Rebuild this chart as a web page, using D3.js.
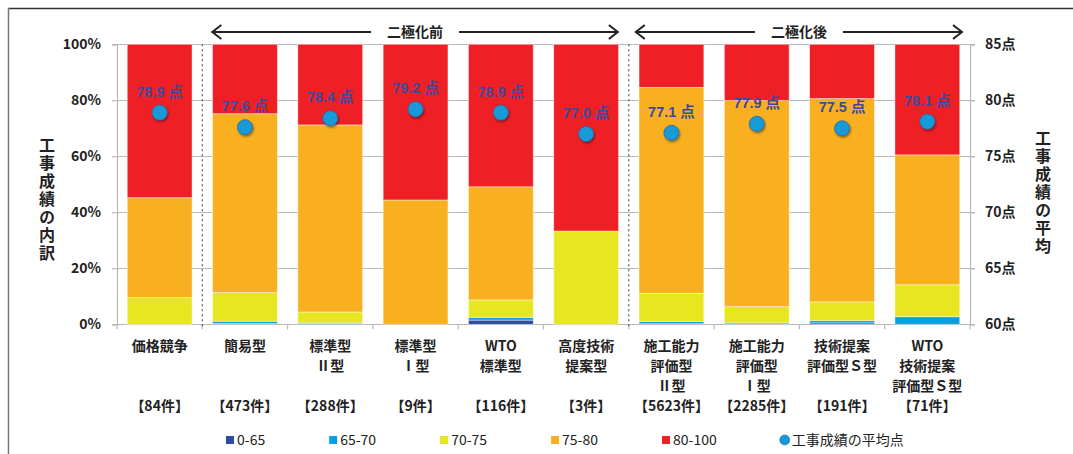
<!DOCTYPE html>
<html>
<head>
<meta charset="utf-8">
<script src="https://cdn.jsdelivr.net/npm/d3@7"></script>
<style>
  body { margin: 0; background: #fff; }
  svg text { font-family: "Liberation Sans", "Noto Sans CJK JP", sans-serif; }
  .jp { font-family: "Noto Sans CJK JP", sans-serif; }
  .vt { writing-mode: vertical-rl; text-orientation: upright; }
</style>
</head>
<body>
<svg width="1073" height="454"></svg>
<script>
// categories (lines of the label) and counts
var categories = ['価格競争', '簡易型', '標準型Ⅱ型', '標準型Ⅰ型', 'WTO標準型', '高度技術提案型',
                  '施工能力評価型Ⅱ型', '施工能力評価型Ⅰ型', '技術提案評価型Ｓ型', 'WTO技術提案評価型Ｓ型'];
var labelLines = [['価格競争'], ['簡易型'], ['標準型', 'Ⅱ型'], ['標準型', 'Ⅰ型'], ['WTO', '標準型'],
                  ['高度技術', '提案型'], ['施工能力', '評価型', 'Ⅱ型'], ['施工能力', '評価型', 'Ⅰ型'],
                  ['技術提案', '評価型Ｓ型'], ['WTO', '技術提案', '評価型Ｓ型']];
var counts = ['【84件】', '【473件】', '【288件】', '【9件】', '【116件】', '【3件】',
              '【5623件】', '【2285件】', '【191件】', '【71件】'];

// share of each score band (%)
var keys = ['0-65', '65-70', '70-75', '75-80', '80-100'];
var band0_65   = [0,    0.3, 0.2, 0,    1.5, 0,    0.2, 0.1, 0.5, 0];
var band65_70  = [0,    0.8, 0.3, 0,    1.0, 0,    0.8, 0.4, 0.8, 2.7];
var band70_75  = [9.5, 10.2, 3.9, 0,    6.2, 33.3, 10.1, 5.8, 6.7, 11.4];
var band75_80  = [35.7, 63.9, 66.8, 44.4, 40.4, 0, 73.5, 73.6, 72.6, 46.4];
var band80_100 = [54.8, 24.8, 28.8, 55.6, 50.9, 66.7, 15.4, 20.1, 19.4, 39.5];
// average score
var averages = [78.9, 77.6, 78.4, 79.2, 78.9, 77.0, 77.1, 77.9, 77.5, 78.1];

var pctTicks = [0, 20, 40, 60, 80, 100];
var ptTicks = [60, 65, 70, 75, 80, 85];
var colors = ['#2c4b9e', '#0aa0e0', '#e8e620', '#f8b020', '#ee2026'];

var rows = categories.map(function(c, i) {
  return { name: c, '0-65': band0_65[i], '65-70': band65_70[i], '70-75': band70_75[i],
           '75-80': band75_80[i], '80-100': band80_100[i], avg: averages[i] };
});

var svg = d3.select('svg');
var plotLeft = 117, plotRight = 970, plotTop = 44.3, plotBottom = 324.3;

// defs: shadow for dots
var defs = svg.append('defs');
var f = defs.append('filter').attr('id', 'sh').attr('x', '-50%').attr('y', '-50%').attr('width', '200%').attr('height', '200%');
f.append('feDropShadow').attr('dx', 1).attr('dy', 1.5).attr('stdDeviation', 1).attr('flood-color', '#000').attr('flood-opacity', 0.45);

// frame
svg.append('line').attr('x1', 8).attr('x2', 1073).attr('y1', 8.5).attr('y2', 8.5).attr('stroke', '#333').attr('stroke-width', 1.5);
svg.append('line').attr('x1', 8.5).attr('x2', 8.5).attr('y1', 8).attr('y2', 454).attr('stroke', '#777').attr('stroke-width', 1.5);

var x = d3.scaleBand().domain(categories).range([plotLeft, plotRight]).paddingInner(0.24).paddingOuter(0.12);
var y = d3.scaleLinear().domain([0, 100]).range([plotBottom, plotTop]);
var y2 = d3.scaleLinear().domain([60, 85]).range([plotBottom, plotTop]);

// gridlines
svg.append('g').selectAll('line').data(pctTicks).enter().append('line')
  .attr('x1', plotLeft).attr('x2', plotRight + 5)
  .attr('y1', function(d) { return Math.round(y(d)) + 0.5; })
  .attr('y2', function(d) { return Math.round(y(d)) + 0.5; })
  .attr('stroke', '#b8b8b8').attr('stroke-width', 1.2);

// stacked bars
var series = d3.stack().keys(keys)(rows);
svg.append('g').selectAll('g').data(series).enter().append('g')
    .attr('fill', function(d, i) { return colors[i]; })
  .selectAll('rect').data(function(d) { return d; }).enter().append('rect')
    .attr('x', function(d) { return x(d.data.name); })
    .attr('width', x.bandwidth())
    .attr('y', function(d) { return y(d[1]); })
    .attr('height', function(d) { return Math.max(0, y(d[0]) - y(d[1])); })
    .attr('stroke', '#fff').attr('stroke-opacity', 0.55).attr('stroke-width', 0.8);

// left axis
var gl = svg.append('g').attr('transform', 'translate(' + plotLeft + ',0)')
  .call(d3.axisLeft(y).tickValues(pctTicks).tickFormat(function(d) { return d + '%'; }).tickSize(5).tickPadding(11));
gl.select('.domain').attr('stroke', '#b8b8b8').attr('stroke-width', 1.2);
gl.selectAll('.tick line').attr('stroke', '#b8b8b8').attr('stroke-width', 1.2);
gl.selectAll('.tick text').attr('font-size', 14).attr('font-weight', 'bold').attr('fill', '#222').attr('class', 'jp');

// right axis
var gr = svg.append('g').attr('transform', 'translate(' + plotRight + ',0)')
  .call(d3.axisRight(y2).tickValues(ptTicks).tickFormat(function(d) { return d + '点'; }).tickSize(5).tickPadding(10));
gr.select('.domain').attr('stroke', '#b8b8b8').attr('stroke-width', 1.2);
gr.selectAll('.tick line').attr('stroke', '#b8b8b8').attr('stroke-width', 1.2);
gr.selectAll('.tick text').attr('font-size', 14).attr('font-weight', 'bold').attr('fill', '#222').attr('class', 'jp');

// bottom axis ticks at category boundaries
var bounds = d3.range(categories.length + 1).map(function(i) { return plotLeft + i * x.step(); });
svg.append('g').selectAll('line').data(bounds).enter().append('line')
  .attr('x1', function(d) { return d; }).attr('x2', function(d) { return d; })
  .attr('y1', plotBottom).attr('y2', plotBottom + 5)
  .attr('stroke', '#b8b8b8').attr('stroke-width', 1.2);

// dotted separators
[1, 6].forEach(function(i) {
  svg.append('line').attr('x1', bounds[i]).attr('x2', bounds[i]).attr('y1', plotTop).attr('y2', plotBottom + 2)
    .attr('stroke', '#555').attr('stroke-width', 1.2).attr('stroke-dasharray', '2,3');
});

// average points
var pts = svg.append('g');
pts.selectAll('circle').data(rows).enter().append('circle')
  .attr('cx', function(d) { return x(d.name) + x.bandwidth() / 2; })
  .attr('cy', function(d) { return y2(d.avg); })
  .attr('r', 7.5).attr('fill', '#129bd8').attr('stroke', '#2a6aa8').attr('stroke-width', 0.8)
  .attr('filter', 'url(#sh)');
pts.selectAll('text').data(rows).enter().append('text')
  .attr('x', function(d) { return x(d.name) + x.bandwidth() / 2; })
  .attr('y', function(d) { return y2(d.avg) - 16; })
  .attr('text-anchor', 'middle').attr('font-size', 14.5).attr('font-weight', 'bold')
  .attr('fill', '#3d4a9c')
  .text(function(d) { return d.avg.toFixed(1) + ' 点'; });

// category labels
var cl = svg.append('g');
rows.forEach(function(d, i) {
  var cx = x(d.name) + x.bandwidth() / 2;
  labelLines[i].forEach(function(line, j) {
    cl.append('text').attr('class', 'jp').attr('x', cx).attr('y', 351 + j * 19.8)
      .attr('text-anchor', 'middle').attr('font-size', 14).attr('font-weight', 'bold').attr('fill', '#222')
      .text(line);
  });
  cl.append('text').attr('class', 'jp').attr('x', cx).attr('y', 411)
    .attr('text-anchor', 'middle').attr('font-size', 14).attr('font-weight', 'bold').attr('fill', '#222')
    .text(counts[i]);
});

// axis titles (vertical)
function vtitle(str, cx, y0) {
  svg.append('text').attr('class', 'jp vt').attr('x', cx).attr('y', y0)
    .attr('font-size', 16).attr('font-weight', 'bold').attr('fill', '#222')
    .attr('letter-spacing', 2)
    .text(str);
}
vtitle('工事成績の内訳', 47, 137);
vtitle('工事成績の平均', 1043, 130);

// period arrows
function arrow(x0, x1, label) {
  var cx = (x0 + x1) / 2, yy = 32, gap = 44;
  var g = svg.append('g').attr('stroke', '#222').attr('stroke-width', 2).attr('fill', 'none');
  g.append('line').attr('x1', x0).attr('x2', cx - gap).attr('y1', yy).attr('y2', yy);
  g.append('line').attr('x1', cx + gap).attr('x2', x1).attr('y1', yy).attr('y2', yy);
  g.append('path').attr('d', 'M' + (x0 + 9) + ',' + (yy - 7) + 'L' + x0 + ',' + yy + 'L' + (x0 + 9) + ',' + (yy + 7));
  g.append('path').attr('d', 'M' + (x1 - 9) + ',' + (yy - 7) + 'L' + x1 + ',' + yy + 'L' + (x1 - 9) + ',' + (yy + 7));
  svg.append('text').attr('class', 'jp').attr('x', cx).attr('y', yy + 5).attr('text-anchor', 'middle')
    .attr('font-size', 14).attr('font-weight', 'bold').attr('fill', '#222').text(label);
}
arrow(bounds[1] + 10, bounds[6] - 11, '二極化前');
arrow(bounds[6] + 7, bounds[10] - 8, '二極化後');

// legend
var legendItems = keys.concat(['工事成績の平均点']);
var lg = svg.append('g');
var lx = 226, ly = 440;
legendItems.forEach(function(name, i) {
  var g = lg.append('g').attr('transform', 'translate(' + lx + ',' + ly + ')');
  if (i < keys.length) {
    g.append('rect').attr('x', 0).attr('y', -4).attr('width', 8).attr('height', 8).attr('fill', colors[i]);
  } else {
    g.append('circle').attr('cx', 4).attr('cy', 0).attr('r', 5).attr('fill', '#129bd8').attr('stroke', '#2a6aa8').attr('stroke-width', 0.6);
  }
  var t = g.append('text').attr('class', 'jp').attr('x', 11).attr('y', 5).attr('font-size', 14).attr('fill', '#222').text(name);
  lx += 11 + t.node().getComputedTextLength() + 64;
});
</script>
</body>
</html>
